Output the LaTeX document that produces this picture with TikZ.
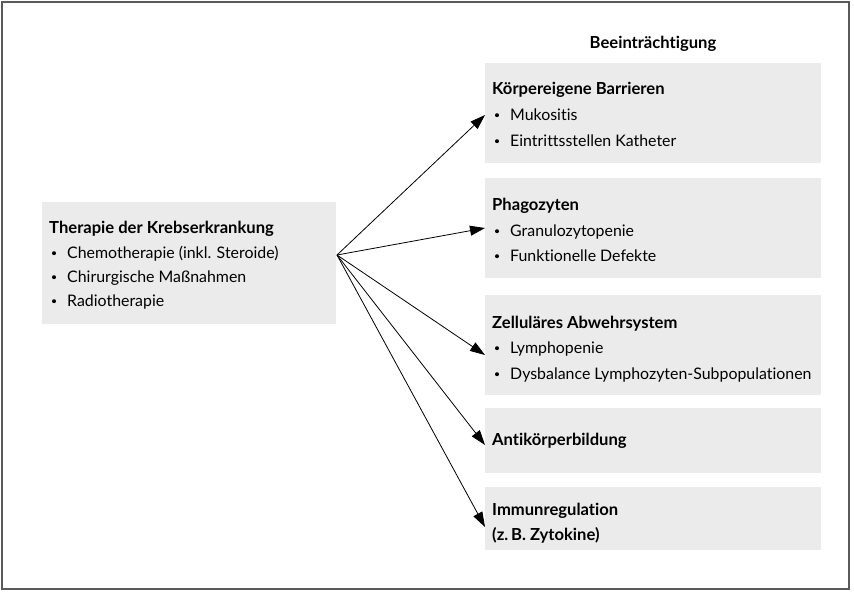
\documentclass[tikz,border=0pt]{standalone}
\usepackage{fontspec}
\setmainfont{Lato}[Ligatures=NoCommon]
\usetikzlibrary{arrows.meta}
\definecolor{boxgray}{HTML}{EBEBEB}
\definecolor{framegray}{HTML}{5A5A5A}
\tikzset{
  x=1pt, y=-1pt,
  box/.style={fill=boxgray, draw=none, anchor=north west, inner sep=0pt},
  hdtxt/.style={anchor=base west, inner sep=0pt, font=\fontsize{16.6}{19}\selectfont\bfseries},
  ltxt/.style={anchor=base west, inner sep=0pt, font=\fontsize{15.9}{19}\selectfont},
  bul/.style={circle, fill=black, inner sep=0pt, minimum size=4pt},
  arr/.style={-{Triangle[length=15pt,width=10pt]}, line width=0.8pt, black},
}
\newcommand\hd[4]{\node[hdtxt] (#1) at (#2,#3) {#4};}
\newcommand\li[4]{\node[ltxt] (#1) at (#2,#3) {#4};
  \node[bul] (#1-b) at (#2-13,#3-4.8) {};}
\begin{document}
\begin{tikzpicture}
\useasboundingbox (0,0) rectangle (854,592);
\draw[framegray, line width=2pt] (1.5,2) rectangle (849,589);

% boxes
\node[box, minimum width=294pt, minimum height=122pt] (src) at (42,202) {};
\node[box, minimum width=336pt, minimum height=100pt] (b1) at (485,63) {};
\node[box, minimum width=336pt, minimum height=100pt] (b2) at (485,178) {};
\node[box, minimum width=336pt, minimum height=100pt] (b3) at (485,295) {};
\node[box, minimum width=336pt, minimum height=65pt] (b4) at (485,408) {};
\node[box, minimum width=336pt, minimum height=63pt] (b5) at (485,487) {};

% heading
\node[font=\fontsize{16.6}{19}\selectfont\bfseries, anchor=base, inner sep=0pt] (head) at (653,48) {Beeinträchtigung};

% left box text
\hd{s0}{49}{233}{Therapie der Krebserkrankung}
\li{s1}{67}{258}{Chemotherapie (inkl. Steroide)}
\li{s2}{67}{282}{Chirurgische Maßnahmen}
\li{s3}{67}{306}{Radiotherapie}

% box 1
\hd{t10}{492}{94}{Körpereigene Barrieren}
\li{t11}{510}{120}{Mukositis}
\li{t12}{510}{146}{Eintrittsstellen Katheter}
% box 2
\hd{t20}{492}{210}{Phagozyten}
\li{t21}{510}{236}{Granulozytopenie}
\li{t22}{510}{261}{Funktionelle Defekte}
% box 3
\hd{t30}{492}{328}{Zelluläres Abwehrsystem}
\li{t31}{510}{353}{Lymphopenie}
\li{t32}{510}{379}{Dysbalance Lymphozyten-Subpopulationen}
% box 4
\hd{t40}{492}{445}{Antikörperbildung}
% box 5
\hd{t50}{492}{515}{Immunregulation}
\hd{t51}{492}{540}{(z.\,B. Zytokine)}

% arrows
\coordinate (o) at (337,255);
\coordinate (e1) at (485,115);
\coordinate (e2) at (485,228);
\coordinate (e3) at (485,355);
\coordinate (e4) at (485,445);
\coordinate (e5) at (485,527);
\foreach \e in {e1,e2,e3,e4,e5} \draw[arr] (o) -- (\e);
\end{tikzpicture}
\end{document}
